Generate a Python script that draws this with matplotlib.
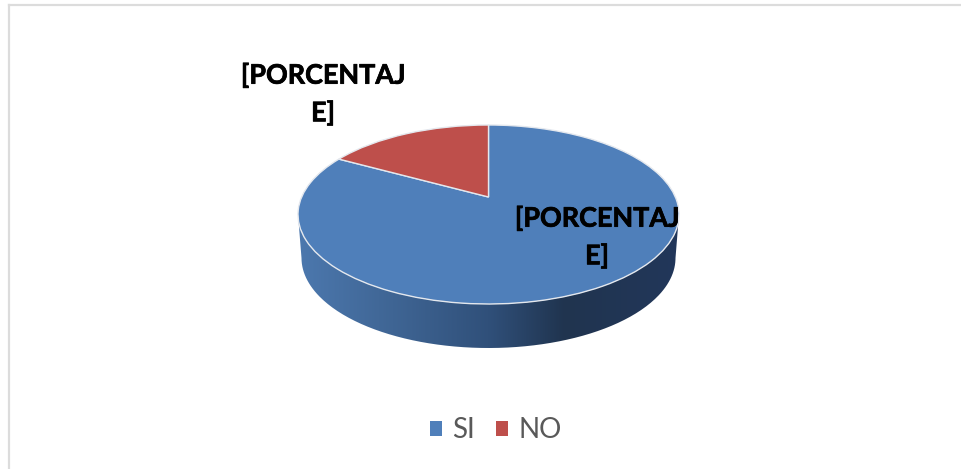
import numpy as np
import matplotlib
matplotlib.use("Agg")
import matplotlib.pyplot as plt
import matplotlib.patheffects as pe
from matplotlib.colors import LinearSegmentedColormap
from matplotlib.lines import Line2D
from matplotlib.patches import PathPatch
from matplotlib.path import Path
from matplotlib.transforms import Transform

categories = ["SI", "NO"]
values = [83, 17]
colors = ["#4F7FBA", "#BE4F4B"]
label_text = "[PORCENTAJ\nE]"

W, H = 961, 469
CX, CY, RX, RY = 488.5, 214.5, 190.5, 89.5
APEX_Y = 197.0                     # where the slices meet in the tilted view
BASE_CY, BASE_RX, BASE_RY = 258.0, 187.0, 90.0

plt.rcParams["font.family"] = ["Lato", "DejaVu Sans"]
fig = plt.figure(figsize=(W / 100, H / 100), dpi=100, facecolor="white")
ax = fig.add_axes([0, 0, 1, 1])


def fx(px):
    return px / W


def fy(py):
    return 1 - py / H


class Tilt(Transform):
    """Perspective view of the unit disc: keeps its outline, moves its centre up."""
    input_dims = output_dims = 2

    def __init__(self, k):
        super().__init__()
        self.k = k

    def transform_non_affine(self, xy):
        xy = np.asarray(xy, float)
        k = self.k
        den = 1 + k * xy[:, 1]
        return np.c_[np.sqrt(1 - k * k) * xy[:, 0] / den, (xy[:, 1] + k) / den]

    def transform_path_non_affine(self, path):
        return Path(self.transform_non_affine(path.vertices), path.codes)


# side wall of the disc, with a horizontal gradient
t = np.linspace(np.pi, 2 * np.pi, 200)
xs = np.r_[BASE_RX / RX * np.cos(t), np.cos(t[::-1])]
ys = np.r_[BASE_RY / RY * np.sin(t) + (CY - BASE_CY) / RY, np.sin(t[::-1])]
wall = PathPatch(Path(np.c_[xs, ys]), fc="none", ec="none", transform=ax.transData)
ax.add_patch(wall)
cmap = LinearSegmentedColormap.from_list(
    "wall",
    [(0, "#4C78AE"), (0.25, "#3F6594"), (0.5, "#30507A"),
     (0.7, "#20344F"), (1, "#22375A")],
)
img = ax.imshow(np.linspace(0, 1, 256)[None, :], extent=(-1, 1, -1.6, 0.2),
                cmap=cmap, aspect="auto", zorder=1)
img.set_clip_path(wall)

wedges, _ = ax.pie(values, colors=colors, startangle=90, counterclock=False,
                   radius=1, wedgeprops=dict(edgecolor="#E4E8EE", linewidth=1.0))
tilt = Tilt((CY - APEX_Y) / RY)
for w in wedges:
    w.set_zorder(2)
    w.set_transform(tilt + ax.transData)

ax.set_aspect("auto")
ax.set_xlim(-CX / RX, (W - CX) / RX)
ax.set_ylim((CY - H) / RY, CY / RY)
ax.axis("off")

# frame lines, partly cut off by the picture edge
for xd, yd in (([fx(9), fx(9)], [fy(5), 0]), ([fx(9), 1], [fy(5), fy(5)])):
    fig.add_artist(Line2D(xd, yd, color="#DCDCDC", lw=1.6))

for px, py in ((323, 94), (597, 237)):
    fig.text(fx(px), fy(py), label_text, ha="center", va="center", fontsize=19.4,
             fontweight="bold", color="black", linespacing=1.6, zorder=5,
             path_effects=[pe.withStroke(linewidth=0.5, foreground="black")])

leg = ax.legend(wedges, categories, loc="center", bbox_to_anchor=(fx(495.5), fy(430)),
                bbox_transform=fig.transFigure, ncol=2, frameon=False, fontsize=20,
                labelcolor="#595959", handlelength=0.45, handleheight=0.45,
                handletextpad=0.35, columnspacing=0.77, borderpad=0, borderaxespad=0)
for h in leg.legend_handles:
    h.set_edgecolor("none")

fig.savefig("out.png", dpi=100, facecolor="white")
